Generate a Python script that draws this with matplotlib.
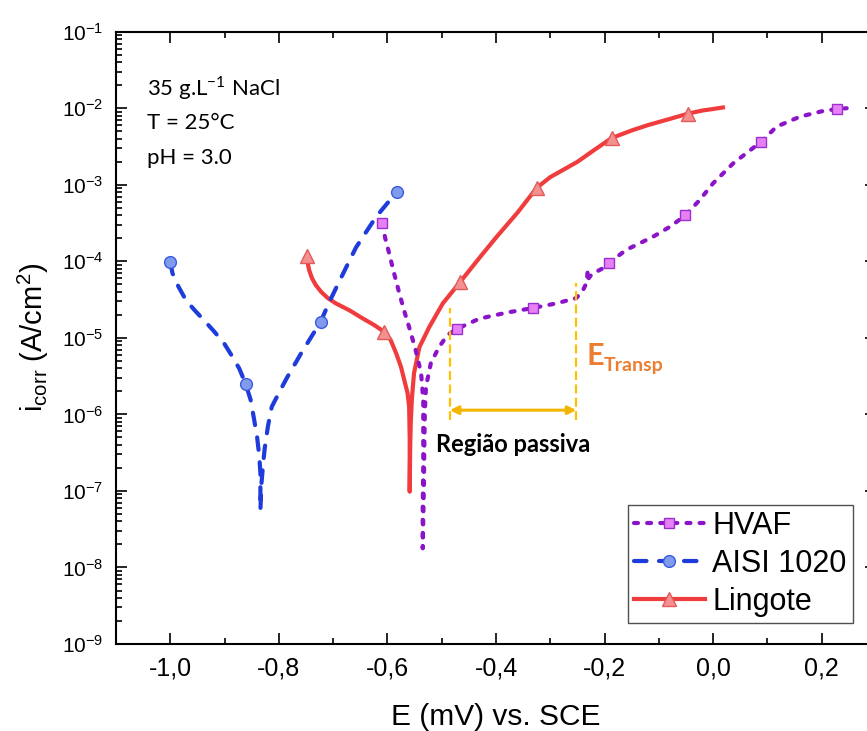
import numpy as np
import matplotlib
matplotlib.use('Agg')
import matplotlib.pyplot as plt
from matplotlib.ticker import MultipleLocator, FixedLocator, FuncFormatter, NullFormatter

plt.rcParams['font.family'] = ['Liberation Sans', 'DejaVu Sans']

# polarization curves: potential (V vs SCE) and log10 of current density (A/cm2)
hvaf_E = [-0.610, -0.604, -0.597, -0.588, -0.578, -0.569, -0.560, -0.548, -0.538,
          -0.534, -0.534, -0.534, -0.535, -0.535,
          -0.533, -0.532, -0.531, -0.529, -0.520, -0.505, -0.489, -0.471, -0.431,
          -0.380, -0.332, -0.289, -0.252, -0.240, -0.233, -0.231, -0.229, -0.224,
          -0.203, -0.192, -0.160, -0.111, -0.080, -0.051, -0.025, 0.000, 0.037,
          0.088, 0.117, 0.160, 0.200, 0.228, 0.246]
hvaf_logi = [-3.50, -3.70, -3.89, -4.15, -4.42, -4.65, -4.86, -5.16, -5.46,
             -5.81, -6.30, -6.69, -7.20, -7.75,
             -7.00, -6.40, -5.95, -5.64, -5.33, -5.12, -4.96, -4.88, -4.75,
             -4.67, -4.61, -4.55, -4.48, -4.38, -4.28, -4.12, -4.22, -4.17,
             -4.09, -4.02, -3.85, -3.68, -3.55, -3.40, -3.20, -2.98, -2.72,
             -2.44, -2.24, -2.11, -2.04, -2.01, -2.00]
hvaf_marks = [0, 21, 24, 33, 37, 41, 45]

aisi_E = [-1.000, -0.996, -0.985, -0.971, -0.955, -0.938, -0.920, -0.901, -0.887,
          -0.873, -0.861, -0.852, -0.846, -0.840, -0.836, -0.834, -0.834, -0.834,
          -0.832, -0.829, -0.826, -0.820, -0.813, -0.800, -0.785, -0.758, -0.723,
          -0.707, -0.683, -0.658, -0.621, -0.600, -0.582]
aisi_logi = [-4.01, -4.155, -4.33, -4.51, -4.64, -4.77, -4.91, -5.07, -5.23,
             -5.40, -5.605, -5.81, -6.05, -6.30, -6.55, -6.77, -7.00, -7.25,
             -6.90, -6.65, -6.44, -6.15, -5.90, -5.72, -5.52, -5.19, -4.79,
             -4.53, -4.18, -3.82, -3.42, -3.24, -3.09]
aisi_marks = [0, 10, 26, 32]

ling_E = [-0.748, -0.747, -0.744, -0.739, -0.732, -0.722, -0.710, -0.695, -0.670,
          -0.647, -0.625, -0.606, -0.594, -0.584, -0.575, -0.569, -0.563, -0.560,
          -0.559, -0.559,
          -0.558, -0.557, -0.555, -0.551, -0.541, -0.523, -0.498, -0.466, -0.430,
          -0.400, -0.360, -0.325, -0.300, -0.275, -0.250, -0.220, -0.187, -0.150,
          -0.120, -0.080, -0.046, -0.020, 0.000, 0.018]
ling_logi = [-3.93, -4.02, -4.12, -4.22, -4.31, -4.40, -4.48, -4.55, -4.64,
             -4.74, -4.83, -4.92, -5.03, -5.20, -5.38, -5.55, -5.72, -5.90,
             -6.30, -7.01,
             -6.40, -6.10, -5.80, -5.46, -5.12, -4.86, -4.55, -4.27, -3.95,
             -3.69, -3.36, -3.04, -2.90, -2.80, -2.70, -2.55, -2.39, -2.29,
             -2.22, -2.14, -2.07, -2.03, -2.01, -1.99]
ling_marks = [0, 11, 27, 31, 36, 40]

# passive region limits
e_pass = -0.485
e_transp = -0.252

fig = plt.figure(figsize=(8.67, 7.31), dpi=100)
ax = fig.add_axes([116/867, 87/731, 760/867, 612.3/731])

ax.plot(ling_E, 10**np.array(ling_logi), color='#f03c3c', lw=3, zorder=3,
        marker='^', ms=9.5, mfc='#f59090', mec='#e45a5a', mew=1,
        markevery=ling_marks, label='Lingote')
ax.plot(aisi_E, 10**np.array(aisi_logi), color='#1e3cdc', lw=3, zorder=4,
        dashes=(3.0, 3.0), dash_capstyle='round',
        marker='o', ms=8.5, mfc='#809bec', mec='#3a5ae0', mew=1,
        markevery=aisi_marks, label='AISI 1020')
ax.plot(hvaf_E, 10**np.array(hvaf_logi), color='#8c14c8', lw=3, zorder=5,
        dashes=(0.95, 2.2), dash_capstyle='round',
        marker='s', ms=7.5, mfc='#e880f5', mec='#9b30d0', mew=1,
        markevery=hvaf_marks, label='HVAF')

# passive region markers
gold = '#ffc000'
ax.plot([e_pass, e_pass], [10**-6.07, 10**-4.61], color=gold, lw=1.6,
        dashes=(4, 2), zorder=6)
ax.plot([e_transp, e_transp], [10**-6.07, 10**-4.285], color=gold, lw=1.6,
        dashes=(4, 2), zorder=6)
ax.annotate('', xy=(e_transp, 10**-5.945), xytext=(e_pass, 10**-5.945),
            arrowprops=dict(arrowstyle='<|-|>', color='#f2b600', lw=2.2,
                            mutation_scale=12, shrinkA=0, shrinkB=0), zorder=6)
ax.text(-0.511, 10**-6.49, 'Região passiva', family='Lato', fontweight='bold',
        fontsize=17, color='black', va='baseline', ha='left')
ax.text(-0.233, 10**-5.357, 'E', family='Lato', fontweight='bold',
        fontsize=22, color='#ed7d31', va='baseline', ha='left')
ax.text(-0.202, 10**-5.435, 'Transp', family='Lato', fontweight='bold',
        fontsize=14, color='#ed7d31', va='baseline', ha='left')

# test conditions
cond = [r'35 g.L$^{\mathdefault{-1}}$ NaCl', 'T = 25°C', 'pH = 3.0']
for txt, yy in zip(cond, [0.8966, 0.8411, 0.7847]):
    ax.text(0.041, yy, txt, transform=ax.transAxes, family='Lato',
            fontsize=16, va='baseline', ha='left')

ax.set_yscale('log')
ax.set_ylim(1e-9, 1e-1)
ax.set_xlim(-1.1, 0.3)

ax.xaxis.set_major_locator(MultipleLocator(0.2))
ax.xaxis.set_minor_locator(MultipleLocator(0.1))
ax.xaxis.set_major_formatter(FuncFormatter(lambda v, p: f'{v:.1f}'.replace('.', ',').replace('-0,0', '0,0')))
decades = np.arange(-9, 0)
ax.yaxis.set_major_locator(FixedLocator(10.0**decades))
ax.yaxis.set_major_formatter(FuncFormatter(lambda v, p: r'$\mathdefault{10^{%d}}$' % round(np.log10(v))))
ax.yaxis.set_minor_locator(FixedLocator([m * 10.0**d for d in decades[:-1] for m in range(2, 10)]))
ax.yaxis.set_minor_formatter(NullFormatter())

ax.tick_params(which='both', direction='in', top=True, right=True, width=1.2)
ax.tick_params(which='major', length=8)
ax.tick_params(which='minor', length=4)
ax.tick_params(axis='x', labelsize=18, pad=9)
ax.tick_params(axis='y', labelsize=15, pad=9)
for sp in ax.spines.values():
    sp.set_linewidth(1.5)

ax.set_xlabel('E (mV) vs. SCE', fontsize=21.5, labelpad=16)
ax.set_ylabel(r'i$_{\mathdefault{corr}}$ (A/cm$^{\mathdefault{2}}$)', fontsize=21, labelpad=8)

h, l = ax.get_legend_handles_labels()
leg = ax.legend(h[::-1], l[::-1], loc='lower left', bbox_to_anchor=(0.674, 0.034),
                borderaxespad=0, fontsize=22, handlelength=2.3, handletextpad=0.25,
                labelspacing=0.26, borderpad=0.2, fancybox=False, framealpha=1,
                edgecolor='#505050', numpoints=1)
leg.get_frame().set_linewidth(1.0)
leg.set_zorder(10)

fig.savefig('out.png', dpi=100)
